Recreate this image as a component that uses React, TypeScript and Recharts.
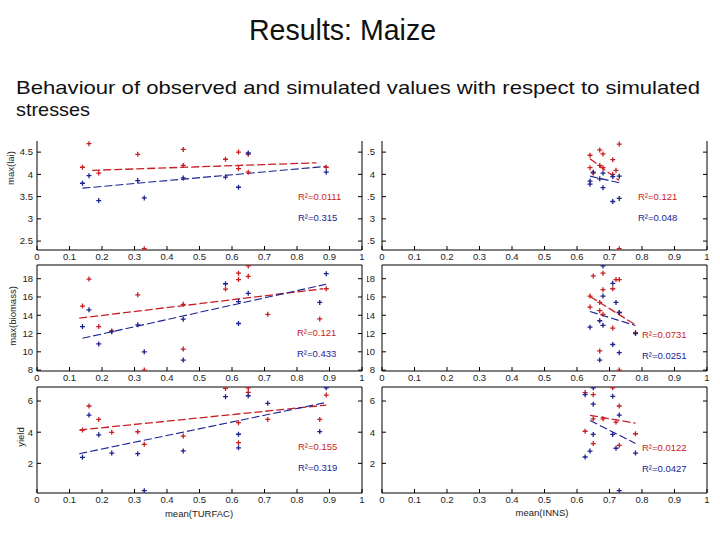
import React from "react";
import { ScatterChart, Scatter, XAxis, YAxis } from "recharts";

const RED = "#c81e23";
const BLUE = "#1c2390";
const TICK_FONT = "'Liberation Sans', Arial, sans-serif";

const xTicks = [0, 0.1, 0.2, 0.3, 0.4, 0.5, 0.6, 0.7, 0.8, 0.9, 1];
const laiTicks = [2.5, 3, 3.5, 4, 4.5];
const biomassTicks = [8, 10, 12, 14, 16, 18];
const yieldTicks = [2, 4, 6];

// ---- mean(TURFAC) column ----
const laiTurfacRed = [
  { x: 0.14, y: 4.16 }, { x: 0.16, y: 4.69 }, { x: 0.19, y: 4.03 }, { x: 0.31, y: 4.45 },
  { x: 0.33, y: 2.33 }, { x: 0.45, y: 4.56 }, { x: 0.45, y: 4.2 }, { x: 0.58, y: 4.34 },
  { x: 0.62, y: 4.5 }, { x: 0.62, y: 4.13 }, { x: 0.65, y: 4.45 }, { x: 0.65, y: 4.05 },
  { x: 0.89, y: 4.16 },
];
const laiTurfacBlue = [
  { x: 0.14, y: 3.8 }, { x: 0.16, y: 3.97 }, { x: 0.19, y: 3.41 }, { x: 0.31, y: 3.86 },
  { x: 0.33, y: 3.47 }, { x: 0.45, y: 3.92 }, { x: 0.58, y: 3.94 }, { x: 0.62, y: 3.71 },
  { x: 0.65, y: 4.48 }, { x: 0.89, y: 4.05 },
];
const laiTurfacFitRed = [{ x: 0.17, y: 4.09 }, { x: 0.86, y: 4.26 }];
const laiTurfacFitBlue = [{ x: 0.14, y: 3.69 }, { x: 0.89, y: 4.18 }];

const biomassTurfacRed = [
  { x: 0.14, y: 15.0 }, { x: 0.16, y: 17.96 }, { x: 0.19, y: 12.76 }, { x: 0.23, y: 12.29 },
  { x: 0.31, y: 16.24 }, { x: 0.33, y: 8.0 }, { x: 0.45, y: 15.2 }, { x: 0.45, y: 10.3 },
  { x: 0.58, y: 16.86 }, { x: 0.62, y: 18.6 }, { x: 0.62, y: 17.9 }, { x: 0.65, y: 18.26 },
  { x: 0.65, y: 19.4 }, { x: 0.71, y: 14.1 }, { x: 0.87, y: 13.6 }, { x: 0.89, y: 16.9 },
];
const biomassTurfacBlue = [
  { x: 0.14, y: 12.76 }, { x: 0.16, y: 14.6 }, { x: 0.19, y: 10.86 }, { x: 0.23, y: 12.2 },
  { x: 0.31, y: 12.95 }, { x: 0.33, y: 10.0 }, { x: 0.45, y: 13.57 }, { x: 0.45, y: 9.1 },
  { x: 0.58, y: 17.45 }, { x: 0.62, y: 15.5 }, { x: 0.62, y: 13.1 }, { x: 0.65, y: 16.4 },
  { x: 0.87, y: 15.4 }, { x: 0.89, y: 18.55 },
];
const biomassTurfacFitRed = [{ x: 0.13, y: 13.68 }, { x: 0.88, y: 16.9 }];
const biomassTurfacFitBlue = [{ x: 0.14, y: 11.48 }, { x: 0.89, y: 17.4 }];

const yieldTurfacRed = [
  { x: 0.14, y: 4.14 }, { x: 0.16, y: 5.68 }, { x: 0.19, y: 4.82 }, { x: 0.23, y: 3.99 },
  { x: 0.31, y: 4.03 }, { x: 0.33, y: 3.22 }, { x: 0.45, y: 3.75 }, { x: 0.58, y: 6.81 },
  { x: 0.62, y: 4.61 }, { x: 0.62, y: 3.33 }, { x: 0.65, y: 6.85 }, { x: 0.65, y: 6.56 },
  { x: 0.71, y: 4.82 }, { x: 0.87, y: 4.82 }, { x: 0.89, y: 6.38 },
];
const yieldTurfacBlue = [
  { x: 0.14, y: 2.39 }, { x: 0.16, y: 5.1 }, { x: 0.19, y: 3.83 }, { x: 0.23, y: 2.66 },
  { x: 0.31, y: 2.62 }, { x: 0.33, y: 0.25 }, { x: 0.45, y: 2.8 }, { x: 0.58, y: 6.28 },
  { x: 0.62, y: 3.87 }, { x: 0.62, y: 3.0 }, { x: 0.65, y: 6.34 }, { x: 0.71, y: 5.85 },
  { x: 0.87, y: 4.04 }, { x: 0.89, y: 6.85 },
];
const yieldTurfacFitRed = [{ x: 0.13, y: 4.14 }, { x: 0.89, y: 5.74 }];
const yieldTurfacFitBlue = [{ x: 0.13, y: 2.62 }, { x: 0.89, y: 5.91 }];

// ---- mean(INNS) column ----
const laiInnsRed = [
  { x: 0.64, y: 4.43 }, { x: 0.64, y: 4.15 }, { x: 0.65, y: 4.03 }, { x: 0.67, y: 4.55 },
  { x: 0.67, y: 4.2 }, { x: 0.68, y: 4.46 }, { x: 0.68, y: 4.15 }, { x: 0.71, y: 4.33 },
  { x: 0.71, y: 4.0 }, { x: 0.72, y: 4.09 }, { x: 0.73, y: 4.68 }, { x: 0.73, y: 2.33 },
];
const laiInnsBlue = [
  { x: 0.64, y: 3.85 }, { x: 0.64, y: 3.78 }, { x: 0.65, y: 4.05 }, { x: 0.67, y: 3.9 },
  { x: 0.68, y: 3.7 }, { x: 0.68, y: 4.03 }, { x: 0.71, y: 3.39 }, { x: 0.71, y: 3.95 },
  { x: 0.73, y: 3.96 }, { x: 0.73, y: 3.46 },
];
const laiInnsFitRed = [{ x: 0.64, y: 4.35 }, { x: 0.73, y: 3.86 }];
const laiInnsFitBlue = [{ x: 0.64, y: 3.96 }, { x: 0.73, y: 3.81 }];

const biomassInnsRed = [
  { x: 0.64, y: 16.1 }, { x: 0.64, y: 14.9 }, { x: 0.65, y: 18.3 }, { x: 0.67, y: 15.4 },
  { x: 0.67, y: 14.5 }, { x: 0.67, y: 10.1 }, { x: 0.68, y: 18.6 }, { x: 0.68, y: 16.8 },
  { x: 0.68, y: 14.1 }, { x: 0.71, y: 16.9 }, { x: 0.71, y: 12.6 }, { x: 0.72, y: 17.9 },
  { x: 0.73, y: 17.9 }, { x: 0.73, y: 14.3 }, { x: 0.73, y: 8.0 }, { x: 0.78, y: 12.1 },
];
const biomassInnsBlue = [
  { x: 0.64, y: 12.7 }, { x: 0.67, y: 13.4 }, { x: 0.67, y: 9.1 }, { x: 0.68, y: 19.4 },
  { x: 0.68, y: 16.1 }, { x: 0.68, y: 12.9 }, { x: 0.71, y: 17.5 }, { x: 0.71, y: 10.8 },
  { x: 0.72, y: 15.4 }, { x: 0.73, y: 14.3 }, { x: 0.73, y: 9.9 }, { x: 0.78, y: 12.0 },
];
const biomassInnsFitRed = [{ x: 0.64, y: 16.06 }, { x: 0.78, y: 12.95 }];
const biomassInnsFitBlue = [{ x: 0.64, y: 14.41 }, { x: 0.78, y: 12.87 }];

const yieldInnsRed = [
  { x: 0.625, y: 6.54 }, { x: 0.625, y: 4.06 }, { x: 0.65, y: 6.41 }, { x: 0.65, y: 3.27 },
  { x: 0.65, y: 4.86 }, { x: 0.68, y: 4.86 }, { x: 0.71, y: 6.85 }, { x: 0.72, y: 4.65 },
  { x: 0.73, y: 5.68 }, { x: 0.73, y: 3.16 }, { x: 0.78, y: 3.9 },
];
const yieldInnsBlue = [
  { x: 0.625, y: 6.41 }, { x: 0.625, y: 2.41 }, { x: 0.65, y: 6.85 }, { x: 0.65, y: 5.8 },
  { x: 0.65, y: 3.86 }, { x: 0.64, y: 2.79 }, { x: 0.71, y: 6.3 }, { x: 0.71, y: 3.86 },
  { x: 0.72, y: 2.97 }, { x: 0.73, y: 5.1 }, { x: 0.73, y: 0.25 }, { x: 0.78, y: 2.66 },
];
const yieldInnsFitRed = [{ x: 0.64, y: 5.08 }, { x: 0.78, y: 4.58 }];
const yieldInnsFitBlue = [{ x: 0.64, y: 4.75 }, { x: 0.78, y: 3.28 }];

const r2Labels = [
  ["R²=0.0111", "R²=0.315"],
  ["R²=0.121", "R²=0.048"],
  ["R²=0.121", "R²=0.433"],
  ["R²=0.0731", "R²=0.0251"],
  ["R²=0.155", "R²=0.319"],
  ["R²=0.0122", "R²=0.0427"],
];

const PLOT_W = 325;

const plusShape = (color: string) => (p: any) => {
  const { cx, cy } = p;
  if (cx == null || cy == null) return <g />;
  return (
    <path
      d={`M${cx - 2.5},${cy}H${cx + 2.5}M${cx},${cy - 2.5}V${cy + 2.5}`}
      stroke={color}
      strokeWidth={1.3}
    />
  );
};

function Panel(props: any) {
  const yw = props.yw;
  const W = yw + PLOT_W + 5;
  const H = 1 + props.plotH + 16;
  const tickStyle = { fontSize: 9.5, fill: "#222", fontFamily: TICK_FONT };
  return (
    <div
      style={{
        position: "absolute",
        left: props.x - yw,
        top: props.y - 1,
        width: W,
        height: H,
        background: props.bg ? "#fff" : "transparent",
      }}
    >
      <ScatterChart width={W} height={H} margin={{ top: 0, right: 1, bottom: 0, left: 0 }}>
        <XAxis
          xAxisId="b"
          type="number"
          dataKey="x"
          domain={[0, 1]}
          ticks={xTicks}
          interval={0}
          allowDataOverflow
          height={16}
          tickSize={-4}
          tickMargin={7}
          stroke="#000"
          tick={tickStyle}
        />
        <XAxis
          xAxisId="t"
          orientation="top"
          type="number"
          domain={[0, 1]}
          ticks={xTicks}
          interval={0}
          allowDataOverflow
          height={1}
          tickSize={-4}
          axisLine={!props.noTop}
          stroke="#000"
          tickFormatter={() => ""}
        />
        <YAxis
          yAxisId="l"
          type="number"
          dataKey="y"
          domain={props.domain}
          ticks={props.ticks}
          interval={0}
          allowDataOverflow
          width={yw}
          tickSize={-4}
          tickMargin={props.tm}
          stroke="#000"
          tick={tickStyle}
        />
        <YAxis
          yAxisId="r"
          orientation="right"
          type="number"
          domain={props.domain}
          ticks={props.ticks}
          interval={0}
          allowDataOverflow
          width={4}
          tickSize={-4}
          stroke="#000"
          tickFormatter={() => ""}
        />
        <Scatter xAxisId="b" yAxisId="l" data={props.fitRed} stroke={RED} fill="none"
          line={{ stroke: RED, strokeWidth: 1.3, strokeDasharray: "8 3" }} shape={() => <g />}
          isAnimationActive={false} />
        <Scatter xAxisId="b" yAxisId="l" data={props.fitBlue} stroke={BLUE} fill="none"
          line={{ stroke: BLUE, strokeWidth: 1.1, strokeDasharray: "8 3" }} shape={() => <g />}
          isAnimationActive={false} />
        <Scatter xAxisId="b" yAxisId="l" data={props.red} shape={plusShape(RED)} isAnimationActive={false} />
        <Scatter xAxisId="b" yAxisId="l" data={props.blue} shape={plusShape(BLUE)} isAnimationActive={false} />
      </ScatterChart>
    </div>
  );
}

const labelBase: any = {
  position: "absolute",
  fontSize: 9.5,
  fontFamily: TICK_FONT,
  whiteSpace: "nowrap",
  lineHeight: "11px",
};

function R2(props: any) {
  return (
    <>
      <div style={{ ...labelBase, left: props.x, top: props.y - 6, color: RED }}>{props.pair[0]}</div>
      <div style={{ ...labelBase, left: props.x, top: props.y + 15, color: BLUE }}>{props.pair[1]}</div>
    </>
  );
}

function YTitle(props: any) {
  return (
    <div
      style={{
        ...labelBase,
        color: "#222",
        left: props.x,
        top: props.y,
        transform: "translate(-50%, -50%) rotate(-90deg)",
      }}
    >
      {props.text}
    </div>
  );
}

export default function App() {
  const rows = [
    { y: 141, h: 109, domain: [2.3, 4.75], ticks: laiTicks, noTop: true },
    { y: 265, h: 106, domain: [7.9, 19.5], ticks: biomassTicks, noTop: false },
    { y: 387, h: 106, domain: [0.1, 6.9], ticks: yieldTicks, noTop: false },
  ];
  const left = [
    [laiTurfacRed, laiTurfacBlue, laiTurfacFitRed, laiTurfacFitBlue],
    [biomassTurfacRed, biomassTurfacBlue, biomassTurfacFitRed, biomassTurfacFitBlue],
    [yieldTurfacRed, yieldTurfacBlue, yieldTurfacFitRed, yieldTurfacFitBlue],
  ];
  const right = [
    [laiInnsRed, laiInnsBlue, laiInnsFitRed, laiInnsFitBlue],
    [biomassInnsRed, biomassInnsBlue, biomassInnsFitRed, biomassInnsFitBlue],
    [yieldInnsRed, yieldInnsBlue, yieldInnsFitRed, yieldInnsFitBlue],
  ];
  const slideFont = "'Liberation Sans', Arial, sans-serif";
  return (
    <div style={{ position: "absolute", left: 0, top: 0, width: 720, height: 540, background: "#fff", overflow: "hidden" }}>
      <svg width={720} height={130} style={{ position: "absolute", left: 0, top: 0 }}>
        <text x={249} y={40} fontSize={29} fontFamily={slideFont} textLength={187} lengthAdjust="spacingAndGlyphs" fill="#111">
          Results: Maize
        </text>
        <text x={16} y={94} fontSize={19} fontFamily={slideFont} textLength={684} lengthAdjust="spacingAndGlyphs" fill="#111">
          Behaviour of observed and simulated values with respect to simulated
        </text>
        <text x={16} y={115.5} fontSize={19} fontFamily={slideFont} textLength={74} lengthAdjust="spacingAndGlyphs" fill="#111">
          stresses
        </text>
      </svg>

      {rows.map((r, i) => (
        <Panel key={"r" + i} x={382} y={r.y} yw={30} tm={11} plotH={r.h} domain={r.domain} ticks={r.ticks}
          noTop={r.noTop} red={right[i][0]} blue={right[i][1]} fitRed={right[i][2]} fitBlue={right[i][3]} />
      ))}
      {rows.map((r, i) => (
        <Panel key={"l" + i} x={37} y={r.y} yw={36} tm={8} plotH={r.h} domain={r.domain} ticks={r.ticks} bg
          noTop={r.noTop} red={left[i][0]} blue={left[i][1]} fitRed={left[i][2]} fitBlue={left[i][3]} />
      ))}

      <R2 x={298} y={197} pair={r2Labels[0]} />
      <R2 x={638} y={197} pair={r2Labels[1]} />
      <R2 x={297} y={333} pair={r2Labels[2]} />
      <R2 x={642} y={335} pair={r2Labels[3]} />
      <R2 x={298} y={447} pair={r2Labels[4]} />
      <R2 x={642} y={448} pair={r2Labels[5]} />

      <YTitle x={10} y={168} text="max(lai)" />
      <YTitle x={12} y={316} text="max(biomass)" />
      <YTitle x={20} y={437} text="yield" />
      <div style={{ ...labelBase, color: "#222", left: 199, top: 513, transform: "translate(-50%, -50%)" }}>mean(TURFAC)</div>
      <div style={{ ...labelBase, color: "#222", left: 542, top: 512, transform: "translate(-50%, -50%)" }}>mean(INNS)</div>
    </div>
  );
}
